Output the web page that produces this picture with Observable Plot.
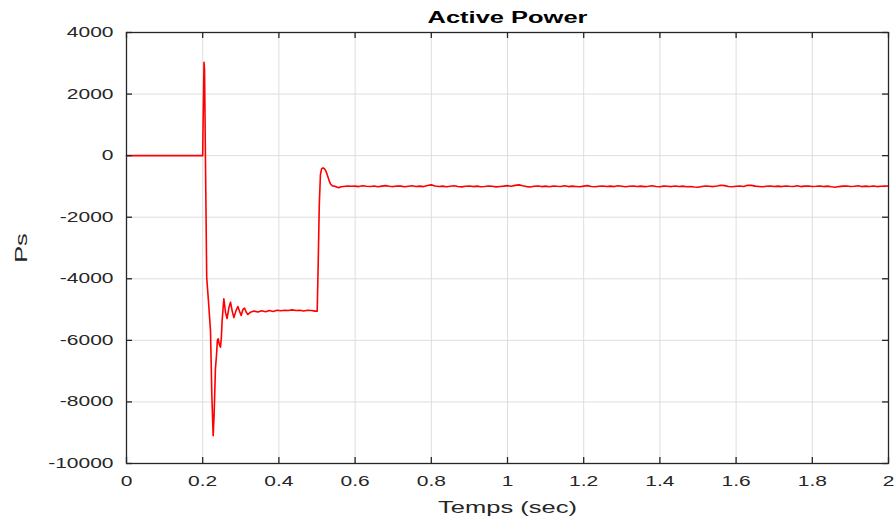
<!DOCTYPE html>
<html><head><meta charset="utf-8">
<script src="https://cdn.jsdelivr.net/npm/d3@7"></script>
<script src="https://cdn.jsdelivr.net/npm/@observablehq/plot@0.6"></script>
<style>
body{margin:0;background:#fff}
#chart svg{display:block}
</style>
</head><body><div id="chart"></div>
<script>
const title = "Active Power";
const xLabel = "Temps (sec)";
const yLabel = "Ps";
const xTicks = [0, 0.2, 0.4, 0.6, 0.8, 1, 1.2, 1.4, 1.6, 1.8, 2];
const yTicks = [-10000, -8000, -6000, -4000, -2000, 0, 2000, 4000];

// transient part (time in s, power)
const transientT = [0, 0.2, 0.2012, 0.2035, 0.2048, 0.2105, 0.2150, 0.2205, 0.2240, 0.2275, 0.2300, 0.2335, 0.2362, 0.2385, 0.2406, 0.2440, 0.2467, 0.2490, 0.2510, 0.2555, 0.2600, 0.2640, 0.2685, 0.2730, 0.2775, 0.2818, 0.2870, 0.2923, 0.2965, 0.3010, 0.3055, 0.3097, 0.3140, 0.3184,
  0.325, 0.335, 0.345, 0.355, 0.365, 0.375, 0.385, 0.395, 0.405, 0.415, 0.425, 0.435, 0.445, 0.455, 0.465, 0.475, 0.485, 0.495,
  0.5005, 0.5030, 0.5060, 0.5090, 0.5120, 0.5160, 0.5200, 0.5240, 0.5280, 0.5320, 0.5360, 0.5400, 0.5450, 0.5500, 0.5570, 0.5630];
const transientP = [0, 0, 1200, 3030, 2800, -3950, -4700, -5700, -7800, -9100, -8400, -6900, -6490, -6000, -5950, -6150, -6220, -5900, -5350, -4650, -5100, -5290, -4950, -4760, -5050, -5260, -5050, -4900, -5050, -5190, -5000, -4950, -5080, -5160,
  -5090, -5050, -5080, -5040, -5070, -5030, -5060, -5020, -5040, -5020, -5030, -5010, -5030, -5020, -5045, -5020, -5030, -5050,
  -5050, -3600, -1600, -620, -430, -395, -430, -520, -660, -820, -930, -975, -990, -1010, -1045, -1010];

// steady state, sampled every 0.01 s from 0.57 s to 2.00 s
const steadyStart = 0.57;
const steadyStep = 0.01;
const steadyP = [
  -1000, -985, -995, -990, -1005, -980, -995, -1000, -985, -1010,
  -990, -975, -995, -1005, -985, -990, -1010, -995, -980, -1000,
  -990, -1005, -970, -950, -985, -1000, -990, -1010, -995, -980,
  -1000, -1015, -995, -985, -1005, -990, -1010, -1000, -985, -995,
  -1015, -1000, -990, -975, -995, -965, -950, -980, -1005, -1020,
  -995, -985, -1005, -990, -1010, -985, -995, -1000, -980, -1005,
  -990, -1000, -1010, -990, -975, -1000, -1010, -995, -985, -1000,
  -990, -1005, -980, -995, -1010, -995, -985, -1000, -990, -1005,
  -995, -980, -1000, -1010, -990, -995, -1005, -985, -1000, -990,
  -1010, -1000, -1020, -1025, -1000, -985, -995, -1005, -985, -960,
  -975, -1000, -1010, -995, -985, -1000, -960, -965, -990, -1000,
  -1010, -995, -985, -1000, -990, -1005, -985, -995, -1000, -980,
  -1005, -990, -985, -1000, -995, -985, -1005, -990, -1010, -1025,
  -1005, -990, -985, -1000, -995, -980, -1005, -990, -1000, -985,
  -1005, -995, -990, -985];

const data = transientT.map((t, i) => ({t, p: transientP[i]}))
  .concat(steadyP.map((p, i) => ({t: +(steadyStart + i * steadyStep).toFixed(3), p})));

const W = 894, H = 522;
const mL = 126, mR = 6, mT = 32, mB = 59;
const pw = W - mL - mR, ph = H - mT - mB;
const tick = 6;
const axisColor = "#262626";

const chart = Plot.plot({
  width: W, height: H,
  marginLeft: mL, marginRight: mR, marginTop: mT, marginBottom: mB,
  style: {fontFamily: "'Liberation Sans', Arial, sans-serif", fontSize: "14px", color: axisColor, background: "#fff"},
  x: {domain: [0, 2]},
  y: {domain: [-10000, 4000]},
  marks: [
    Plot.gridX(xTicks, {stroke: "#dedede", strokeOpacity: 1}),
    Plot.gridY(yTicks, {stroke: "#dedede", strokeOpacity: 1}),
    Plot.line(data, {x: "t", y: "p", stroke: "#ff0000", strokeWidth: 1.6}),
    // inward ticks on all four sides
    Plot.tickX(xTicks, {x: d => d, stroke: axisColor, strokeWidth: 1.3, insetTop: ph - tick}),
    Plot.tickX(xTicks, {x: d => d, stroke: axisColor, strokeWidth: 1.3, insetBottom: ph - tick}),
    Plot.tickY(yTicks, {y: d => d, stroke: axisColor, strokeWidth: 1.3, insetRight: pw - tick}),
    Plot.tickY(yTicks, {y: d => d, stroke: axisColor, strokeWidth: 1.3, insetLeft: pw - tick}),
    Plot.frame({stroke: axisColor, strokeWidth: 1.3}),
    Plot.axisX(xTicks, {tickSize: 0, tickPadding: 13, tickFormat: d => String(d), label: xLabel, labelAnchor: "center", labelArrow: "none", labelOffset: 49, fontSize: 14}),
    Plot.axisY(yTicks, {tickSize: 0, tickPadding: 13, tickFormat: d => String(d), label: yLabel, labelAnchor: "center", labelArrow: "none", labelOffset: 112, fontSize: 14}),
    Plot.text([title], {frameAnchor: "top", dy: -10, lineAnchor: "bottom", fontWeight: "bold", fontSize: 17, fill: "#000"})
  ]
});

document.getElementById("chart").appendChild(chart);
const svg = chart.tagName === "svg" ? chart : chart.querySelector("svg");
svg.querySelectorAll("[aria-label='x-axis label'], [aria-label='y-axis label']").forEach(el => el.setAttribute("font-size", "17"));
svg.querySelectorAll("[aria-label='x-axis label'] text, [aria-label='y-axis label'] text").forEach(el => el.setAttribute("font-size", "17"));
// the reference typeface is horizontally wide: stretch every text around its anchor
svg.querySelectorAll("text").forEach(el => {
  let t = el.getAttribute("transform") || "";
  const xa = el.getAttribute("x");
  if (xa !== null && isFinite(+xa)) {
    el.removeAttribute("x");
    t = `translate(${+xa},0) ` + t;
  }
  el.setAttribute("transform", t + " scale(1.5,1)");
});
</script>
</body></html>
